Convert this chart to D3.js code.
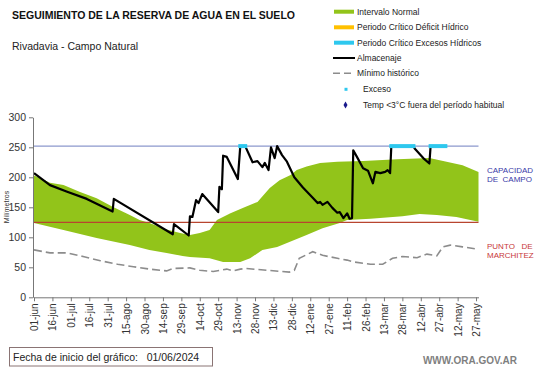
<!DOCTYPE html>
<html>
<head>
<meta charset="utf-8">
<script src="https://cdn.jsdelivr.net/npm/d3@7"></script>
<style>
  body { margin: 0; background: #fff; }
  text { font-family: "Liberation Sans", Arial, sans-serif; }
</style>
</head>
<body>
<div id="chart"></div>
<script>
var svgWidth = 541;
var svgHeight = 368;

// days counted from 01-jun-2024
var tickLabels = ["01-jun", "16-jun", "01-jul", "16-jul", "31-jul", "15-ago", "30-ago", "14-sep",
  "29-sep", "14-oct", "29-oct", "13-nov", "28-nov", "13-dic", "28-dic", "12-ene", "27-ene",
  "11-feb", "26-feb", "13-mar", "28-mar", "12-abr", "27-abr", "12-may", "27-may"];

// normal interval, upper edge
var upperDays = [0, 5, 13, 24, 37, 51, 64, 78, 86, 94, 108, 119, 127, 135, 143, 149, 160, 170, 182,
  192, 200, 209, 214, 222, 233, 247, 268, 296, 322, 336, 349, 362];
var upperVals = [203, 199, 191, 187, 176, 165, 151, 137, 129, 124, 113, 107, 104, 107, 112, 129, 140,
  149, 159, 182, 195, 204, 212, 218, 224, 226, 227, 230, 232, 226, 220, 209];

// normal interval, lower edge
var lowerDays = [0, 24, 51, 78, 94, 108, 121, 127, 143, 154, 168, 176, 186, 198, 208, 222, 235, 249,
  255, 274, 300, 314, 328, 344, 362];
var lowerVals = [124, 112, 99, 87, 79, 74, 69, 67, 65, 59, 59, 65, 79, 84, 92, 104, 115, 124, 129,
  131, 135, 139, 137, 134, 126];

// almacenaje
var storeDays = [0, 13, 27, 43, 64, 65, 113, 114, 126, 127, 129, 132, 134, 137, 150, 151, 153, 154,
  157, 166, 168, 172, 178, 182, 186, 188, 191, 193, 196, 198, 202, 206, 212, 219, 227, 231, 233, 235,
  239, 243, 247, 249, 252, 255, 257, 259, 260, 263, 268, 272, 276, 278, 282, 286, 288, 290, 291, 309,
  310, 317, 322, 323, 335];
var storeVals = [207, 187, 176, 164, 143, 164, 105, 122, 103, 135, 134, 162, 157, 172, 142, 184, 180,
  236, 234, 197, 252, 252, 225, 227, 217, 224, 212, 250, 232, 252, 237, 226, 200, 183, 166, 157, 159,
  154, 159, 149, 141, 142, 132, 140, 131, 132, 245, 234, 215, 211, 190, 209, 207, 209, 212, 207, 252,
  252, 248, 232, 223, 252, 252];

// minimo historico
var minDays = [0, 13, 27, 40, 54, 68, 81, 94, 108, 113, 127, 135, 146, 157, 162, 168, 173, 190, 208,
  212, 216, 227, 235, 247, 255, 260, 274, 284, 292, 300, 312, 320, 328, 333, 339, 349, 359];
var minVals = [79, 74, 74, 68, 61, 55, 51, 47, 44, 48, 49, 45, 43, 47, 44, 47, 48, 45, 42, 45, 65, 76,
  70, 65, 62, 59, 55, 55, 65, 68, 66, 72, 69, 84, 87, 84, 81];

// exceso periods (start, end day)
var excesoStart = [168, 291, 323];
var excesoEnd = [172, 309, 335];

var capacidad = 252;
var marchitez = 125;

var svg = d3.select("#chart")
  .append("svg")
  .attr("width", svgWidth)
  .attr("height", svgHeight);

var x = d3.scaleLinear().domain([0, 362]).range([34, 478.5]);
var y = d3.scaleLinear().domain([0, 300]).range([297.3, 117.3]);

var green = "#92c41a";

// normal band
var bandPts = upperDays.map((d, i) => [d, upperVals[i]])
  .concat(lowerDays.map((d, i) => [d, lowerVals[i]]).reverse());
svg.append("path")
  .attr("d", d3.line().x(d => x(d[0])).y(d => y(d[1]))(bandPts) + "Z")
  .attr("fill", green);

// reference lines
svg.append("line")
  .attr("x1", x(0)).attr("x2", x(362))
  .attr("y1", y(capacidad)).attr("y2", y(capacidad))
  .attr("stroke", "#6f7fc0").attr("stroke-width", 1);
svg.append("line")
  .attr("x1", x(0)).attr("x2", x(362))
  .attr("y1", y(marchitez)).attr("y2", y(marchitez))
  .attr("stroke", "#b8452f").attr("stroke-width", 1.2);

// minimo historico
svg.append("path")
  .datum(minDays.map((d, i) => [d, minVals[i]]))
  .attr("d", d3.line().x(d => x(d[0])).y(d => y(d[1])))
  .attr("fill", "none")
  .attr("stroke", "#8c8c8c")
  .attr("stroke-width", 1.6)
  .attr("stroke-dasharray", "8,4");

// almacenaje
svg.append("path")
  .datum(storeDays.map((d, i) => [d, storeVals[i]]))
  .attr("d", d3.line().x(d => x(d[0])).y(d => y(d[1])))
  .attr("fill", "none")
  .attr("stroke", "#000")
  .attr("stroke-width", 2.2)
  .attr("stroke-linejoin", "round");

// exceso markers
svg.selectAll(".exceso")
  .data(excesoStart)
  .enter()
  .append("line")
  .attr("x1", d => x(d))
  .attr("x2", (d, i) => x(excesoEnd[i]))
  .attr("y1", y(capacidad))
  .attr("y2", y(capacidad))
  .attr("stroke", "#2ec8ee")
  .attr("stroke-width", 4)
  .attr("stroke-linecap", "square");

// axes
var yAxis = svg.append("g")
  .attr("transform", `translate(${x(0) - 1},0)`)
  .call(d3.axisLeft(y).tickValues(d3.range(0, 301, 50)).tickSize(4).tickSizeOuter(0));
yAxis.selectAll("text").attr("font-size", "10.5px").attr("fill", "#333").attr("font-family", "Liberation Sans");

var xAxis = svg.append("g")
  .attr("transform", `translate(0,${y(0)})`)
  .call(d3.axisBottom(x)
    .tickValues(tickLabels.map((t, i) => i * 15))
    .tickFormat((d, i) => tickLabels[i])
    .tickSize(4).tickSizeOuter(0));
xAxis.selectAll("text")
  .attr("font-size", "10px")
  .attr("fill", "#333")
  .attr("font-family", "Liberation Sans")
  .attr("transform", "rotate(-90)")
  .attr("text-anchor", "end")
  .attr("x", -6)
  .attr("y", 0)
  .attr("dy", "0.35em");

svg.selectAll(".domain, .tick line").attr("stroke", "#777");

svg.append("text")
  .attr("transform", "translate(9,207) rotate(-90)")
  .attr("text-anchor", "middle")
  .attr("font-size", "7px")
  .attr("fill", "#333")
  .text("Milímetros");

// titles
svg.append("text")
  .attr("x", 12).attr("y", 19)
  .attr("font-size", "10.5px")
  .attr("font-weight", "bold")
  .attr("fill", "#111")
  .text("SEGUIMIENTO DE LA RESERVA DE AGUA EN EL SUELO");
svg.append("text")
  .attr("x", 12).attr("y", 50)
  .attr("font-size", "10.5px")
  .attr("fill", "#222")
  .text("Rivadavia - Campo Natural");

// side labels
var sideLabels = [
  {lines: ["CAPACIDAD", "DE  CAMPO"], y: 173, color: "#3a3aa8"},
  {lines: ["PUNTO   DE", "MARCHITEZ"], y: 249, color: "#c8383a"}
];
sideLabels.forEach(function(s) {
  s.lines.forEach(function(l, i) {
    svg.append("text")
      .attr("x", 487).attr("y", s.y + i * 9)
      .attr("font-size", "8px")
      .attr("fill", s.color)
      .attr("xml:space", "preserve")
      .style("white-space", "pre")
      .text(l);
  });
});

// legend
var legendNames = ["Intervalo Normal", "Periodo Crítico Déficit Hídrico", "Periodo Crítico Excesos Hídricos",
  "Almacenaje", "Mínimo histórico", "Exceso", "Temp <3°C fuera del período habitual"];
var legendY = [11.7, 27.3, 42.7, 58, 73.3, 89.3, 105];
var legend = svg.append("g");

legend.append("rect").attr("x", 334).attr("y", legendY[0] - 2).attr("width", 20).attr("height", 4).attr("fill", green);
legend.append("rect").attr("x", 334).attr("y", legendY[1] - 2).attr("width", 20).attr("height", 4).attr("fill", "#ffc000");
legend.append("rect").attr("x", 334).attr("y", legendY[2] - 2).attr("width", 20).attr("height", 4).attr("fill", "#2ec8ee");
legend.append("line").attr("x1", 333).attr("x2", 355).attr("y1", legendY[3]).attr("y2", legendY[3])
  .attr("stroke", "#000").attr("stroke-width", 2);
legend.append("line").attr("x1", 333).attr("x2", 355).attr("y1", legendY[4]).attr("y2", legendY[4])
  .attr("stroke", "#8c8c8c").attr("stroke-width", 1.6).attr("stroke-dasharray", "7,4");
legend.append("rect").attr("x", 344.5).attr("y", legendY[5] - 1.5).attr("width", 3).attr("height", 3).attr("fill", "#2ec8ee");
legend.append("path")
  .attr("d", d3.symbol().type(d3.symbolDiamond).size(14)())
  .attr("transform", `translate(345.5,${legendY[6]})`)
  .attr("fill", "#1a1a8c");

legend.selectAll(".ltext")
  .data(legendNames)
  .enter()
  .append("text")
  .attr("x", (d, i) => i < 5 ? 357 : 363)
  .attr("y", (d, i) => legendY[i])
  .attr("dy", "0.35em")
  .attr("font-size", "8.5px")
  .attr("fill", "#222")
  .text(d => d);

// footer
svg.append("rect")
  .attr("x", 9.5).attr("y", 347.5)
  .attr("width", 203).attr("height", 18.5)
  .attr("fill", "none")
  .attr("stroke", "#8a7474");
svg.append("text")
  .attr("x", 13).attr("y", 361)
  .attr("font-size", "10.5px")
  .attr("font-family", "Lato")
  .attr("fill", "#222")
  .attr("xml:space", "preserve")
  .style("white-space", "pre")
  .text("Fecha de inicio del gráfico:   01/06/2024");
svg.append("text")
  .attr("x", 517).attr("y", 364)
  .attr("text-anchor", "end")
  .attr("font-size", "10px")
  .attr("font-weight", "bold")
  .attr("fill", "#7f7f7f")
  .text("WWW.ORA.GOV.AR");
</script>
</body>
</html>
